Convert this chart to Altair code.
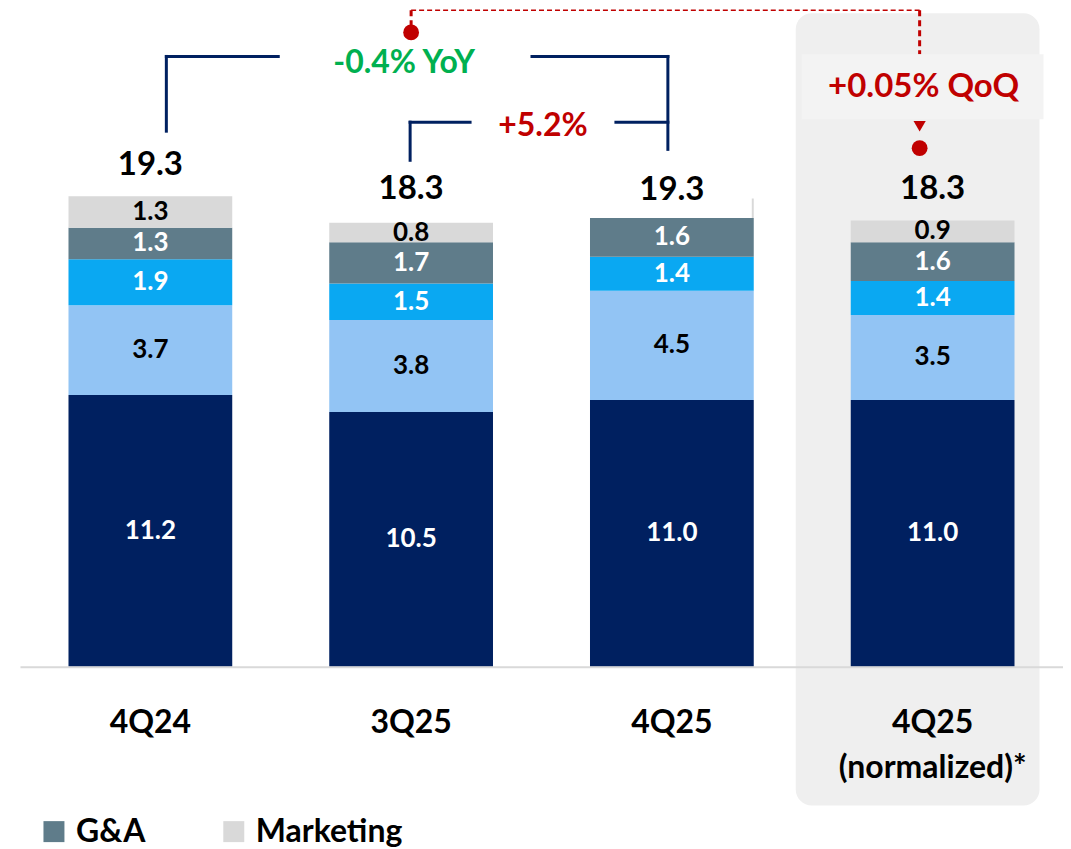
import altair as alt
import pandas as pd

# ---------------- data ----------------
quarters = ["4Q24", "3Q25", "4Q25", "4Q25 (normalized)*"]
segments = ["Personnel", "Administrative", "Depreciation", "G&A", "Marketing"]
personnel = [11.2, 10.5, 11.0, 11.0]
administrative = [3.7, 3.8, 4.5, 3.5]
depreciation = [1.9, 1.5, 1.4, 1.4]
ga = [1.3, 1.7, 1.6, 1.6]
marketing = [1.3, 0.8, 0.8, 0.9]
totals = [19.3, 18.3, 19.3, 18.3]
legend_items = ["G&A", "Marketing"]
yoy_text = "-0.4% YoY"
qoq_text = "+5.2%"
norm_text = "+0.05% QoQ"

series = [personnel, administrative, depreciation, ga, marketing]
rows = []
for si, (seg, vals) in enumerate(zip(segments, series)):
    for q, v in zip(quarters, vals):
        rows.append({"quarter": q, "segment": seg, "value": v, "idx": si})
df = pd.DataFrame(rows)
tot_df = pd.DataFrame({"quarter": quarters, "total": totals})
one = pd.DataFrame({"k": [0]})

# ---------------- style ----------------
FONT = "Lato"
NAVY = "#002060"
RED = "#C00000"
GREEN = "#00B050"
colors = ["#002060", "#92C4F4", "#0AA8F2", "#5F7C8A", "#D9D9D9"]

xscale = alt.Scale(domain=quarters, paddingInner=0.372, paddingOuter=0.186)
yscale = alt.Scale(domain=[0, 27.1], nice=False, zero=False)
AXIS = alt.Axis(
    title=None, labelAngle=0, labelFont=FONT, labelFontSize=32,
    labelFontWeight="bold", labelColor="black", labelPadding=41,
    ticks=False, domainColor="#D9D9D9", domainWidth=2, zindex=1,
    labelExpr="split(datum.label, ' ')", labelLineHeight=45, labelLimit=0,
)


def X(cat):
    return alt.XDatum(cat, type="nominal", scale=xscale, axis=AXIS)


def Y(v):
    return alt.YDatum(v, type="quantitative", scale=yscale, axis=None)


def vrule(cat, off, y1, y2, color=NAVY, width=3, dash=None, cap="square"):
    kw = dict(color=color, strokeWidth=width, xOffset=off, strokeCap=cap)
    if dash:
        kw["strokeDash"] = dash
    return alt.Chart(one).mark_rule(**kw).encode(x=X(cat), y=Y(y1), y2=alt.Y2Datum(y2))


def hrule(cat1, off1, cat2, off2, yv, color=NAVY, width=3, dash=None, cap="square"):
    kw = dict(color=color, strokeWidth=width, xOffset=off1, x2Offset=off2, strokeCap=cap)
    if dash:
        kw["strokeDash"] = dash
    return alt.Chart(one).mark_rule(**kw).encode(
        x=X(cat1), x2=alt.X2Datum(cat2), y=Y(yv))


def label(cat, off, yv, text, color, size=31):
    return alt.Chart(one).mark_text(
        font=FONT, fontSize=size, fontWeight="bold", color=color,
        xOffset=off, baseline="middle", align="center",
    ).encode(x=X(cat), y=Y(yv), text=alt.value(text))


# highlighted panel behind the normalized column
panel = alt.Chart(one).mark_bar(
    color="#EFEFEF", cornerRadius=16, width=244, xOffset=-15
).encode(x=X(quarters[3]), y=Y(26.94), y2=alt.Y2Datum(-5.72))

base = alt.Chart(df).transform_stack(
    stack="value", groupby=["quarter"], as_=["y0", "y1"],
    sort=[alt.SortField("idx", order="ascending")],
).transform_calculate(mid="(datum.y0 + datum.y1) / 2")

bars = base.mark_bar().encode(
    x=alt.X("quarter:N", scale=xscale, axis=AXIS),
    y=alt.Y("y0:Q", scale=yscale, axis=None),
    y2="y1:Q",
    color=alt.Color(
        "segment:N",
        scale=alt.Scale(domain=segments, range=colors),
        legend=alt.Legend(
            values=legend_items, orient="none", legendX=18, legendY=807,
            direction="horizontal", title=None, symbolType="square",
            symbolSize=441, symbolStrokeWidth=0, labelFont=FONT,
            labelFontSize=32, labelFontWeight="bold", labelColor="black",
            labelOffset=6, columnPadding=72, padding=0,
        ),
    ),
)

seg_labels = base.mark_text(
    font=FONT, fontSize=26, fontWeight="bold", baseline="middle"
).encode(
    x=alt.X("quarter:N", scale=xscale, axis=AXIS),
    y=alt.Y("mid:Q", scale=yscale, axis=None),
    text=alt.Text("value:Q", format=".1f"),
    color=alt.condition(
        alt.FieldOneOfPredicate(field="segment", oneOf=["Personnel", "Depreciation", "G&A"]),
        alt.value("white"), alt.value("black"),
    ),
)

# white label box that hides the top segment of 4Q25
cover = base.transform_filter(
    (alt.datum.quarter == "4Q25") & (alt.datum.segment == "Marketing")
).transform_calculate(top="datum.y1 + 2.2").mark_bar(
    color="white", width=162, xOffset=-1
).encode(
    x=alt.X("quarter:N", scale=xscale, axis=AXIS),
    y=alt.Y("y0:Q", scale=yscale, axis=None),
    y2="top:Q",
)

tot_main = alt.Chart(tot_df).transform_filter(alt.datum.quarter != "4Q25").mark_text(
    font=FONT, fontSize=33, fontWeight="bold", color="black", dy=-24, baseline="alphabetic"
).encode(
    x=alt.X("quarter:N", scale=xscale, axis=AXIS),
    y=alt.Y("total:Q", scale=yscale, axis=None),
    text=alt.Text("total:Q", format=".1f"),
)
tot_4q25 = alt.Chart(tot_df).transform_filter(alt.datum.quarter == "4Q25").mark_text(
    font=FONT, fontSize=33, fontWeight="bold", color="black", dy=1, baseline="alphabetic"
).encode(
    x=alt.X("quarter:N", scale=xscale, axis=AXIS),
    y=alt.Y("total:Q", scale=yscale, axis=None),
    text=alt.Text("total:Q", format=".1f"),
)

# ---------------- annotations ----------------
ann = [
    # YoY bracket
    vrule(quarters[0], 16, 25.16, 22.08),
    hrule(quarters[0], 16, quarters[0], 128, 25.16),
    hrule(quarters[1], 121, quarters[2], -4, 25.16),
    vrule(quarters[2], -4, 25.16, 21.33),
    label(quarters[1], -7, 24.88, yoy_text, GREEN, 32),
    # QoQ bracket
    vrule(quarters[1], -1, 22.45, 20.88),
    hrule(quarters[1], -1, quarters[1], 59, 22.45),
    hrule(quarters[2], -56, quarters[2], -4, 22.45),
    label(quarters[1], 132, 22.28, qoq_text, RED, 32),
    # red dashed connector to normalized column
    vrule(quarters[1], 0, 27.06, 26.15, color=RED, width=3, dash=[6, 4], cap="butt"),
    hrule(quarters[1], 0, quarters[3], -13, 27.06, color=RED, width=1.5, dash=[5, 3], cap="butt"),
    vrule(quarters[3], -13, 27.06, 25.25, color=RED, width=3, dash=[6, 4], cap="butt"),
    alt.Chart(one).mark_bar(color="#F3F3F3", width=242, xOffset=-10).encode(
        x=X(quarters[3]), y=Y(25.25), y2=alt.Y2Datum(22.57)),
    label(quarters[3], -9, 23.89, norm_text, RED, 33),
    alt.Chart(one).mark_point(shape="triangle-down", filled=True, size=150, color=RED,
                              opacity=1, xOffset=-13).encode(x=X(quarters[3]), y=Y(22.28)),
    alt.Chart(one).mark_circle(size=250, color=RED, opacity=1, xOffset=-13).encode(
        x=X(quarters[3]), y=Y(21.38)),
    alt.Chart(one).mark_circle(size=250, color=RED, opacity=1).encode(
        x=X(quarters[1]), y=Y(26.15)),
]

chart = alt.layer(panel, bars, seg_labels, cover, tot_main, tot_4q25, *ann).properties(
    width=1044, height=658,
    padding={"left": 12, "top": 0, "right": 0, "bottom": 0},
    background="white",
).configure_view(stroke=None)

chart.save("out.html", embed_options={"renderer": "svg", "actions": False})
